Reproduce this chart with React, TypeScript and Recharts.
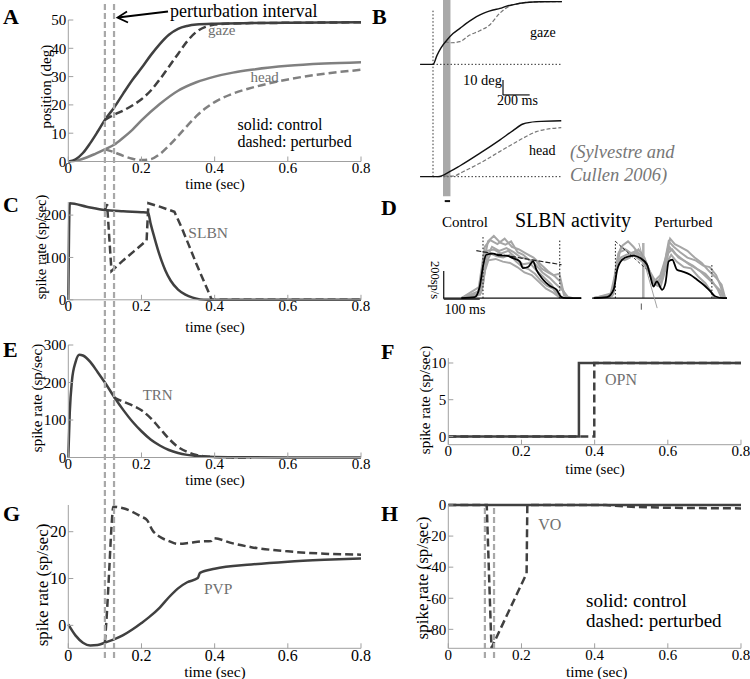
import React from 'react';
import { LineChart, Line, XAxis, YAxis, ReferenceLine, ReferenceArea } from 'recharts';

const SERIF = "'Liberation Serif', serif";
const DARK = '#404040';
const MID = '#808080';
const PERT = '#a8a8a8';
const AXIS = '#a0a0a0';
const LABEL = '#707070';

// ---------- shared ----------
const TIME_TICKS = [0, 0.2, 0.4, 0.6, 0.8];
const PERT_INTERVAL = [0.1, 0.125];

// ---------- A: position ----------
const aGazeCtrlT = [0, 0.02, 0.04, 0.06, 0.08, 0.1, 0.125, 0.15, 0.175, 0.2, 0.225, 0.25, 0.275, 0.3, 0.325, 0.35, 0.4, 0.5, 0.6, 0.8];
const aGazeCtrl = [0, 0.8, 3, 6.5, 10.5, 14.7, 19, 24, 28.8, 33, 37.5, 41.5, 44.8, 46.9, 47.9, 48.4, 48.7, 48.9, 49, 49.2];
const aGazePertT = [0.1, 0.125, 0.15, 0.175, 0.2, 0.225, 0.25, 0.275, 0.3, 0.325, 0.35, 0.375, 0.4, 0.45, 0.5, 0.6, 0.8];
const aGazePert = [14.7, 16.5, 18, 19.8, 22, 25, 29, 33.5, 38, 42.5, 45.8, 47.6, 48.4, 48.8, 48.9, 49, 49.2];
const aHeadCtrlT = [0, 0.025, 0.05, 0.075, 0.1, 0.125, 0.15, 0.175, 0.2, 0.25, 0.3, 0.35, 0.4, 0.45, 0.5, 0.6, 0.7, 0.8];
const aHeadCtrl = [0, 0.4, 1.4, 2.8, 4.3, 5.9, 8.4, 11.2, 14.5, 20.3, 25, 28, 30, 31.4, 32.4, 33.8, 34.6, 35.1];
const aHeadPertT = [0.1, 0.125, 0.15, 0.175, 0.2, 0.225, 0.25, 0.275, 0.3, 0.325, 0.35, 0.375, 0.4, 0.45, 0.5, 0.6, 0.7, 0.8];
const aHeadPert = [4.3, 3.3, 2, 1, 0.5, 0.8, 2.6, 5.6, 9, 12.6, 16, 18.8, 21, 24, 26, 29, 31, 32.4];

// ---------- C: SLBN ----------
const cCtrlT = [0, 0.004, 0.05, 0.1, 0.15, 0.2, 0.218, 0.225, 0.235, 0.245, 0.255, 0.265, 0.28, 0.3, 0.32, 0.34, 0.36, 0.38, 0.8];
const cCtrl = [0, 228, 220, 212, 209, 207, 206, 180, 148, 118, 92, 70, 45, 24, 12, 5, 1, 0, 0];
const cPertT = [0.1, 0.106, 0.118, 0.15, 0.18, 0.214, 0.219, 0.25, 0.29, 0.31, 0.33, 0.35, 0.37, 0.385, 0.392, 0.8];
const cPert = [212, 226, 68, 93, 115, 140, 228, 220, 208, 170, 128, 85, 45, 15, 0, 0];

// ---------- E: TRN ----------
const eCtrlT = [0, 0.004, 0.01, 0.02, 0.03, 0.04, 0.06, 0.08, 0.1, 0.125, 0.15, 0.175, 0.2, 0.225, 0.25, 0.275, 0.3, 0.325, 0.35, 0.4, 0.5, 0.6, 0.8];
const eCtrl = [0, 120, 205, 255, 274, 272, 255, 228, 200, 162, 127, 96, 70, 48, 32, 20, 12, 7, 4, 1.5, 0.5, 0.2, 0];
const ePertT = [0.125, 0.15, 0.175, 0.2, 0.225, 0.25, 0.275, 0.3, 0.325, 0.35, 0.375, 0.4, 0.45, 0.5];
const ePert = [160, 149, 139, 126, 105, 78, 50, 28, 15, 7, 3, 1, 0.3, 0];

// ---------- G: PVP ----------
const gCtrlT = [0, 0.02, 0.04, 0.06, 0.08, 0.1, 0.125, 0.15, 0.175, 0.2, 0.22, 0.25, 0.275, 0.3, 0.325, 0.354, 0.36, 0.4, 0.5, 0.6, 0.7, 0.8];
const gCtrl = [0.2, -2.2, -3.7, -4.3, -4.2, -3.7, -3, -2.1, -0.9, 0.5, 1.7, 3.8, 6, 7.9, 9.2, 10.1, 11.2, 12.1, 13, 13.6, 14, 14.3];
const gPertT = [0.1, 0.105, 0.112, 0.118, 0.123, 0.15, 0.2, 0.215, 0.23, 0.25, 0.275, 0.3, 0.33, 0.36, 0.39, 0.396, 0.45, 0.5, 0.6, 0.7, 0.8];
const gPert = [-3.7, 2, 12, 21, 25.3, 25, 23.2, 22.5, 20.3, 18.9, 18, 17.4, 17.6, 17.9, 18, 18.6, 17.5, 16.7, 15.8, 15.3, 15.1];

// ---------- F: OPN ----------
const fCtrlT = [0, 0.357, 0.357, 0.8];
const fCtrl = [0, 0, 10, 10];
const fPertT = [0, 0.399, 0.399, 0.8];
const fPert = [0, 0, 10, 10];

// ---------- H: VO ----------
const hCtrlT = [0, 0.8];
const hCtrl = [0, 0];
const hPertT = [0, 0.105, 0.118, 0.214, 0.216, 0.43, 0.5, 0.6, 0.8];
const hPert = [0, 0, -92, -44, 0, 0, -1.2, -1.8, -2.2];

// ---------- B: recorded gaze / head (ms, deg) ----------
const bGazeCtrlT = [-97, 0, 30, 60, 105, 150, 202, 250, 300, 352, 400, 450, 502, 552, 602, 652, 700, 802, 967];
const bGazeCtrl = [0, 0, 6, 11, 16.2, 20.5, 24, 27.3, 30.3, 32.9, 34.8, 36.2, 37.3, 38.8, 39.8, 40.7, 41.2, 41.7, 41.8];
const bGazePertT = [88, 137, 200, 275, 350, 425, 500, 575, 650, 725, 802, 967];
const bGazePert = [15.1, 14.4, 15.1, 19.5, 22.4, 26.2, 34, 38.9, 40.6, 41.5, 41.7, 41.8];
const bHeadCtrlT = [-97, 37.5, 125, 200, 350, 500, 600, 675, 775, 962];
const bHeadCtrl = [0, 0, 3.3, 7.1, 15.5, 24.4, 30.7, 35.1, 36.7, 37.3];
const bHeadPertT = [37.5, 100, 150, 225, 350, 500, 650, 775, 962];
const bHeadPert = [0, 0.4, 0.4, 3.3, 8.9, 16.7, 24.4, 30, 32.7];
const B_GAZE_BASE = 74.9;

// ---------- D: SLBN recordings (ms, sp/s) ----------
const dCtrlMeanT = [-60, -23, -9, 0, 9, 28, 46, 65, 83, 102, 111, 125, 139, 148, 167, 185, 204, 218, 231, 273];
const dCtrlMean = [0, 7, 86, 235, 321, 329, 316, 314, 296, 272, 222, 230, 272, 210, 136, 91, 62, 7, 0, 0];
const dCtrlG1T = [-60, -15, -5, 5, 20, 40, 60, 80, 100, 120, 140, 160, 180, 200, 215, 225, 240];
const dCtrlG1 = [0, 20, 200, 380, 430, 400, 440, 380, 360, 330, 300, 250, 200, 160, 120, 20, 0];
const dCtrlG2T = [-60, -10, 0, 10, 30, 50, 70, 90, 110, 130, 150, 170, 190, 205, 215];
const dCtrlG2 = [0, 30, 250, 350, 360, 330, 350, 300, 250, 260, 200, 150, 100, 40, 0];
const dCtrlG3T = [-60, -5, 5, 15, 35, 55, 75, 95, 115, 135, 155, 175, 195, 210, 225];
const dCtrlG3 = [0, 40, 200, 280, 290, 270, 260, 230, 190, 170, 120, 70, 40, 10, 0];
const dCtrlG4T = [-60, 0, 10, 25, 45, 65, 85, 105, 125, 145, 165, 185, 200, 220, 235, 250];
const dCtrlG4 = [0, 100, 300, 380, 350, 370, 340, 300, 290, 250, 190, 150, 110, 60, 10, 0];
const dCtrlG5T = [-60, -8, 3, 14, 30, 48, 62, 78, 96, 112, 128, 146, 162, 180, 196, 212, 222, 232];
const dCtrlG5 = [0, 25, 280, 420, 460, 410, 395, 420, 340, 320, 280, 280, 220, 190, 170, 180, 60, 0];
const dCtrlG6T = [-60, -3, 8, 22, 38, 56, 74, 92, 110, 126, 144, 160, 178, 194, 206, 218];
const dCtrlG6 = [0, 60, 260, 330, 310, 300, 320, 270, 230, 215, 180, 130, 90, 70, 30, 0];

const dPertMeanT = [-60, -23, -5, 5, 19, 37, 51, 69, 88, 97, 106, 115, 130, 139, 148, 158, 171, 185, 208, 227, 245, 264, 278, 301, 310];
const dPertMean = [0, 7, 62, 210, 284, 309, 314, 296, 247, 161, 86, 124, 62, 111, 272, 284, 210, 198, 173, 136, 99, 49, 12, 0, 0];
const dPertG1T = [-60, -15, -3, 8, 20, 35, 50, 65, 80, 95, 110, 125, 140, 152, 165, 180, 200, 220, 240, 260, 280, 295, 305];
const dPertG1 = [0, 10, 150, 330, 390, 420, 380, 330, 300, 200, 130, 170, 300, 440, 400, 380, 350, 300, 260, 200, 150, 100, 0];
const dPertG2T = [-60, -8, 2, 12, 28, 45, 60, 75, 90, 105, 118, 130, 145, 158, 175, 195, 215, 235, 255, 275, 290, 300];
const dPertG2 = [0, 20, 200, 340, 360, 330, 300, 270, 210, 110, 90, 140, 330, 360, 300, 270, 240, 200, 150, 100, 60, 0];
const dPertG3T = [-60, -5, 5, 15, 30, 50, 70, 85, 100, 112, 125, 138, 150, 165, 185, 205, 230, 250, 270, 285, 295];
const dPertG3 = [0, 40, 250, 300, 320, 340, 310, 250, 160, 110, 80, 200, 380, 330, 290, 250, 210, 180, 120, 60, 0];
const dPertG4T = [-60, -10, 0, 10, 25, 40, 55, 70, 85, 100, 115, 128, 142, 155, 170, 190, 210, 230, 250, 265, 275];
const dPertG4 = [0, 15, 180, 290, 280, 300, 350, 320, 240, 150, 120, 150, 260, 320, 270, 230, 220, 160, 110, 50, 0];
const dPertG5T = [-60, -6, 4, 16, 32, 48, 64, 80, 96, 110, 122, 136, 148, 162, 180, 200, 222, 244, 262, 280, 292, 302];
const dPertG5 = [0, 30, 270, 380, 350, 310, 360, 300, 190, 100, 130, 250, 420, 380, 340, 300, 280, 240, 230, 170, 90, 0];

function pts(t: number[], v: number[], off = 0) {
  return t.map((x, i) => ({ t: x, v: v[i] + off }));
}

function ln(key: string, t: number[], v: number[], stroke: string, w = 2.5, dash?: string, type: any = 'monotone', off = 0) {
  return (
    <Line
      key={key}
      data={pts(t, v, off)}
      dataKey="v"
      type={type}
      stroke={stroke}
      strokeWidth={w}
      strokeDasharray={dash}
      dot={false}
      activeDot={false}
      isAnimationActive={false}
    />
  );
}

function seg(key: string, x1: number, y1: number, x2: number, y2: number, stroke: string, w: number, dash?: string) {
  return (
    <ReferenceLine
      key={key}
      segment={[{ x: x1, y: y1 }, { x: x2, y: y2 }]}
      stroke={stroke}
      strokeWidth={w}
      strokeDasharray={dash}
      ifOverflow="visible"
    />
  );
}

type FrameProps = {
  left: number; width: number; px0: number; px1: number; py0: number; py1: number;
  yDomain: [number, number]; yTicks: number[]; fs: number; children: React.ReactNode;
};

function Frame(p: FrameProps) {
  const top = p.py0 - 14;
  const axisH = 28;
  const height = p.py1 - top + axisH;
  const tickStyle = { fontSize: p.fs, fill: '#000', style: { fontFamily: SERIF } };
  return (
    <div style={{ position: 'absolute', left: p.left, top }}>
      <LineChart width={p.width} height={height} margin={{ top: p.py0 - top, right: p.left + p.width - p.px1, bottom: 0, left: 0 }}>
        <XAxis
          type="number" dataKey="t" domain={[0, 0.8]} ticks={TIME_TICKS} interval={0} height={axisH}
          axisLine={{ stroke: AXIS, strokeWidth: 1 }} tickLine={{ stroke: AXIS }} tickSize={-5} tickMargin={6}
          tick={tickStyle}
        />
        <YAxis
          type="number" domain={p.yDomain} ticks={p.yTicks} interval={0} width={p.px0 - p.left}
          axisLine={{ stroke: AXIS, strokeWidth: 1 }} tickLine={{ stroke: AXIS }} tickSize={-5} tickMargin={7}
          tick={tickStyle}
        />
        {p.children}
      </LineChart>
    </div>
  );
}

function Overlay(p: { left: number; top: number; width: number; height: number; px0: number; px1: number; color: string }) {
  return (
    <div style={{ position: 'absolute', left: p.left, top: p.top }}>
      <LineChart width={p.width} height={p.height} margin={{ top: 0, bottom: 0, left: p.px0 - p.left, right: p.left + p.width - p.px1 }}>
        <XAxis type="number" dataKey="t" domain={[0, 0.8]} hide />
        <YAxis type="number" domain={[0, 1]} hide />
        <Line data={[{ t: 0, v: 0 }, { t: 0.8, v: 0 }]} dataKey="v" stroke="none" dot={false} activeDot={false} isAnimationActive={false} />
        {PERT_INTERVAL.map((x) => (
          <ReferenceLine key={x} x={x} stroke={p.color} strokeWidth={2.2} strokeDasharray="6 3" ifOverflow="visible" />
        ))}
      </LineChart>
    </div>
  );
}

function Bare(p: { left: number; top: number; width: number; height: number; xDomain: [number, number]; yDomain: [number, number]; children: React.ReactNode }) {
  return (
    <div style={{ position: 'absolute', left: p.left, top: p.top }}>
      <LineChart width={p.width} height={p.height} margin={{ top: 0, bottom: 0, left: 0, right: 0 }}>
        <XAxis type="number" dataKey="t" domain={p.xDomain} hide allowDataOverflow />
        <YAxis type="number" domain={p.yDomain} hide allowDataOverflow />
        {p.children}
      </LineChart>
    </div>
  );
}

const T = (props: any) => <text style={{ fontFamily: SERIF }} {...props} />;

export default function App() {
  const LX0 = 68.3, LX1 = 361, RX0 = 448.3, RX1 = 741;
  const dash = '8 4';
  const GRAY = '#a6a6a6';
  return (
    <div style={{ position: 'absolute', left: 0, top: 0, width: 750, height: 679, background: '#fff', overflow: 'hidden', fontFamily: SERIF }}>
      {/* A */}
      <Frame left={0} width={380} px0={LX0} px1={LX1} py0={19.5} py1={161} yDomain={[0, 50]} yTicks={[0, 10, 20, 30, 40, 50]} fs={15}>
        {ln('hp', aHeadPertT, aHeadPert, MID, 2.5, dash)}
        {ln('hc', aHeadCtrlT, aHeadCtrl, MID, 2.5)}
        {ln('gp', aGazePertT, aGazePert, DARK, 2.5, dash)}
        {ln('gc', aGazeCtrlT, aGazeCtrl, DARK, 2.5)}
      </Frame>
      {/* C */}
      <Frame left={0} width={380} px0={LX0} px1={LX1} py0={201.7} py1={299.5} yDomain={[0, 231]} yTicks={[0, 100, 200]} fs={15}>
        {ln('cp', cPertT, cPert, DARK, 2.5, dash, 'linear')}
        {ln('cc', cCtrlT, cCtrl, DARK, 2.5)}
      </Frame>
      {/* E */}
      <Frame left={0} width={380} px0={LX0} px1={LX1} py0={345} py1={457.5} yDomain={[0, 300]} yTicks={[0, 100, 200, 300]} fs={15}>
        {ln('ep', ePertT, ePert, DARK, 2.5, dash)}
        {ln('ec', eCtrlT, eCtrl, DARK, 2.5)}
      </Frame>
      {/* G */}
      <Frame left={0} width={380} px0={LX0} px1={LX1} py0={505} py1={648.3} yDomain={[-4.9, 25.7]} yTicks={[0, 10, 20]} fs={16}>
        {ln('gp', gPertT, gPert, DARK, 2.5, dash)}
        {ln('gc', gCtrlT, gCtrl, DARK, 2.5)}
      </Frame>
      {/* F */}
      <Frame left={380} width={370} px0={RX0} px1={RX1} py0={358.3} py1={445} yDomain={[-1.13, 10.68]} yTicks={[0, 5, 10]} fs={15}>
        {ln('fp', fPertT, fPert, DARK, 2.5, dash, 'linear')}
        {ln('fc', fCtrlT, fCtrl, DARK, 2.5, undefined, 'linear')}
      </Frame>
      {/* H */}
      <Frame left={380} width={370} px0={RX0} px1={RX1} py0={505} py1={648.3} yDomain={[-92.2, 0]} yTicks={[-80, -60, -40, -20, 0]} fs={15}>
        {ln('hc', hCtrlT, hCtrl, DARK, 2.5, undefined, 'linear')}
        {ln('hp', hPertT, hPert, DARK, 2.5, dash, 'linear')}
      </Frame>

      {/* perturbation interval lines */}
      <Overlay left={0} top={2} width={380} height={656} px0={LX0} px1={LX1} color={PERT} />
      <Overlay left={380} top={505} width={370} height={153} px0={RX0} px1={RX1} color={PERT} />

      {/* B */}
      <Bare left={420} top={0} width={142} height={205} xDomain={[-97.5, 967.5]} yDomain={[-18.9, 117.8]}>
        <ReferenceArea x1={75} x2={131} y1={-13} y2={117.8} fill="#a9a9a9" fillOpacity={1} stroke="none" ifOverflow="visible" />
        {seg('bk', 88, -16.3, 128, -16.3, '#111', 2)}
        {seg('v0', 0, 0, 0, 111, '#333', 1, '1.5 2')}
        {seg('gb', 0, B_GAZE_BASE, 967, B_GAZE_BASE, '#333', 1, '1.5 2')}
        {seg('hb', 0, 0, 967, 0, '#333', 1, '1.5 2')}
        {seg('sv', 525, 54.5, 525, 64.5, '#111', 1.2)}
        {seg('sh', 525, 54.5, 725, 54.5, '#111', 1.2)}
        {ln('bgp', bGazePertT, bGazePert, '#777', 1.2, '4 2', 'monotone', B_GAZE_BASE)}
        {ln('bgc', bGazeCtrlT, bGazeCtrl, '#111', 1.4, undefined, 'monotone', B_GAZE_BASE)}
        {ln('bhp', bHeadPertT, bHeadPert, '#777', 1.2, '4 2')}
        {ln('bhc', bHeadCtrlT, bHeadCtrl, '#111', 1.4)}
      </Bare>

      {/* D control */}
      <Bare left={443.3} top={233.3} width={138.4} height={77.4} xDomain={[-111, 273]} yDomain={[-91, 482]}>
        {ln('g1', dCtrlG1T, dCtrlG1, GRAY, 2, undefined, 'linear')}
        {ln('g2', dCtrlG2T, dCtrlG2, GRAY, 2, undefined, 'linear')}
        {ln('g3', dCtrlG3T, dCtrlG3, GRAY, 2, undefined, 'linear')}
        {ln('g4', dCtrlG4T, dCtrlG4, GRAY, 2, undefined, 'linear')}
        {ln('g5', dCtrlG5T, dCtrlG5, GRAY, 2, undefined, 'linear')}
        {ln('g6', dCtrlG6T, dCtrlG6, GRAY, 2, undefined, 'linear')}
        {seg('base', -111, 0, 273, 0, '#111', 1.4)}
        {seg('sbv', -109, 0, -109, 200, '#111', 1.2)}
        {seg('sbh', -109, -7, -9, -7, '#111', 1.2)}
        {seg('d0', 0, 0, 0, 457, '#111', 1, '1.5 2')}
        {seg('d1', 213, 0, 213, 432, '#111', 1, '1.5 2')}
        {seg('dl', -18.5, 351, 218, 247, '#222', 1.2, '5 2')}
        {ln('m', dCtrlMeanT, dCtrlMean, '#000', 1.8)}
      </Bare>

      {/* D perturbed */}
      <Bare left={591.7} top={233.3} width={135} height={77.4} xDomain={[-65, 310]} yDomain={[-91, 482]}>
        <ReferenceArea x1={74} x2={81} y1={0} y2={408} fill="#b0b0b0" fillOpacity={1} stroke="none" ifOverflow="visible" />
        {ln('p1', dPertG1T, dPertG1, GRAY, 2, undefined, 'linear')}
        {ln('p2', dPertG2T, dPertG2, GRAY, 2, undefined, 'linear')}
        {ln('p3', dPertG3T, dPertG3, GRAY, 2, undefined, 'linear')}
        {ln('p4', dPertG4T, dPertG4, GRAY, 2, undefined, 'linear')}
        {ln('p5', dPertG5T, dPertG5, GRAY, 2, undefined, 'linear')}
        {seg('base', -65, 0, 310, 0, '#111', 1.4)}
        {seg('d0', 0, 0, 0, 420, '#111', 1, '1.5 2')}
        {seg('d1', 268, 0, 268, 259, '#111', 1, '1.5 2')}
        {seg('dl', 0, 420, 88, 210, '#222', 0.9, '3 2')}
        {seg('sl', 65, 408, 116, -74, '#999', 0.9)}
        {seg('ar', 72, -40, 72, -86, '#555', 1)}
        {ln('m', dPertMeanT, dPertMean, '#000', 1.8)}
      </Bare>

      {/* text & annotations */}
      <svg width={750} height={679} style={{ position: 'absolute', left: 0, top: 0, pointerEvents: 'none' }}>
        {/* panel letters */}
        <T x={3} y={23.5} fontSize={22} fontWeight="bold">A</T>
        <T x={372} y={24} fontSize={22} fontWeight="bold">B</T>
        <T x={3} y={212} fontSize={22} fontWeight="bold">C</T>
        <T x={381} y={215} fontSize={22} fontWeight="bold">D</T>
        <T x={3} y={357} fontSize={22} fontWeight="bold">E</T>
        <T x={381} y={359} fontSize={22} fontWeight="bold">F</T>
        <T x={3} y={521} fontSize={22} fontWeight="bold">G</T>
        <T x={381} y={521} fontSize={22} fontWeight="bold">H</T>

        {/* perturbation interval annotation */}
        <T x={170} y={16.5} fontSize={18}>perturbation interval</T>
        <line x1={168} y1={11.5} x2={118} y2={17.5} stroke="#000" strokeWidth={1.8} />
        <polyline points="127,11.5 117.5,17.6 128,22.5" fill="none" stroke="#000" strokeWidth={1.8} />

        {/* A labels */}
        <T x={208} y={35} fontSize={15} fill={LABEL}>gaze</T>
        <T x={250.5} y={82} fontSize={15} fill={LABEL}>head</T>
        <T x={237.5} y={130} fontSize={16}>solid: control</T>
        <T x={237.5} y={147} fontSize={16}>dashed: perturbed</T>
        <T x={215} y={188.5} fontSize={15} textAnchor="middle">time (sec)</T>
        <T x={51.5} y={86.7} fontSize={15} textAnchor="middle" transform="rotate(-90 51.5 86.7)">position (deg)</T>

        {/* C */}
        <T x={188.3} y={238} fontSize={15.5} fill={LABEL}>SLBN</T>
        <T x={215} y={332} fontSize={15} textAnchor="middle">time (sec)</T>
        <T x={46} y={247} fontSize={14.5} textAnchor="middle" transform="rotate(-90 46 247)">spike rate (sp/sec)</T>

        {/* E */}
        <T x={142.7} y={400} fontSize={15} fill={LABEL}>TRN</T>
        <T x={215} y={485} fontSize={15} textAnchor="middle">time (sec)</T>
        <T x={41.5} y={398} fontSize={15} textAnchor="middle" transform="rotate(-90 41.5 398)">spike rate (sp/sec)</T>

        {/* G */}
        <T x={204} y={593.5} fontSize={15.5} fill={LABEL}>PVP</T>
        <T x={215} y={677} fontSize={15.5} textAnchor="middle">time (sec)</T>
        <T x={48} y={585} fontSize={17} textAnchor="middle" transform="rotate(-90 48 585)">spike rate (sp/sec)</T>

        {/* F */}
        <T x={605} y={384.7} fontSize={16} fill={LABEL}>OPN</T>
        <T x={595} y={473.5} fontSize={15} textAnchor="middle">time (sec)</T>
        <T x={430} y={400} fontSize={15} textAnchor="middle" transform="rotate(-90 430 400)">spike rate (sp/sec)</T>

        {/* H */}
        <T x={538.3} y={529.5} fontSize={16} fill={LABEL}>VO</T>
        <T x={586} y={606.5} fontSize={19}>solid: control</T>
        <T x={586} y={627} fontSize={19}>dashed: perturbed</T>
        <T x={596.7} y={677} fontSize={15.5} textAnchor="middle">time (sec)</T>
        <T x={428} y={578} fontSize={17} textAnchor="middle" transform="rotate(-90 428 578)">spike rate (sp/sec)</T>

        {/* B texts */}
        <T x={530} y={37} fontSize={14}>gaze</T>
        <T x={529} y={155} fontSize={14}>head</T>
        <T x={502} y={85} fontSize={14.5} textAnchor="end">10 deg</T>
        <T x={517.5} y={104.5} fontSize={14} textAnchor="middle">200 ms</T>
        <T x={570} y={157.5} fontSize={18.5} fontStyle="italic" fill="#777">(Sylvestre and</T>
        <T x={570} y={181} fontSize={18.5} fontStyle="italic" fill="#777">Cullen 2006)</T>

        {/* D texts */}
        <T x={465} y={227} fontSize={15} textAnchor="middle">Control</T>
        <T x={573} y={227} fontSize={20} textAnchor="middle">SLBN activity</T>
        <T x={683.3} y={227} fontSize={15} textAnchor="middle">Perturbed</T>
        <T x={431} y={280} fontSize={12.5} textAnchor="middle" transform="rotate(90 431 280)">200sp/s</T>
        <T x={465} y={313.5} fontSize={14} textAnchor="middle">100 ms</T>
      </svg>
    </div>
  );
}
